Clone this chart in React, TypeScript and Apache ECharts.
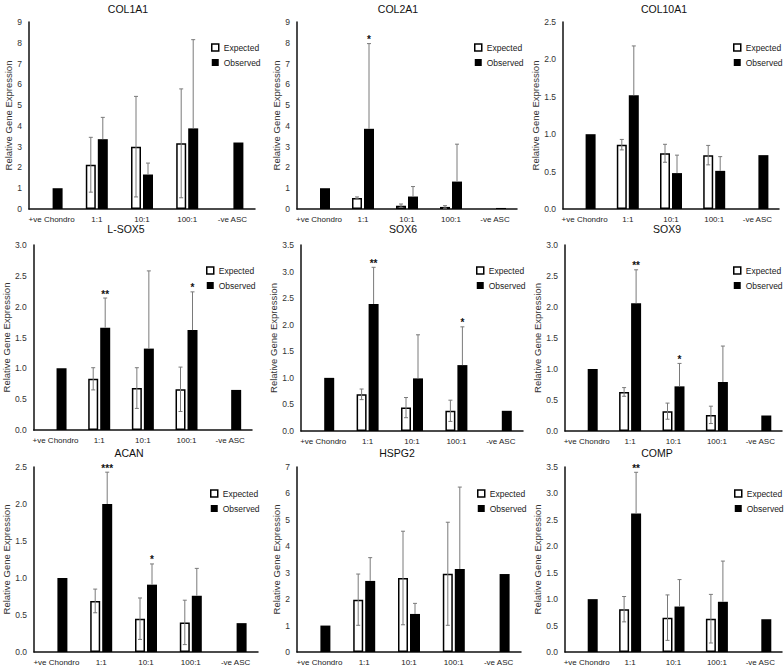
import React, { useEffect, useRef } from "react";
import * as echarts from "echarts";

const categories = ["+ve Chondro", "1:1", "10:1", "100:1", "-ve ASC"];
const genes = ["COL1A1", "COL2A1", "COL10A1", "L-SOX5", "SOX6", "SOX9", "ACAN", "HSPG2", "COMP"];
const yMax = [9, 9, 2.5, 3, 3.5, 3, 2.5, 7, 3.5];
const yInterval = [1, 1, 0.5, 0.5, 0.5, 0.5, 0.5, 1, 0.5];
const yDecimals = [0, 0, 1, 1, 1, 1, 1, 0, 1];

const col1a1Expected = [null, 2.13, 3.0, 3.16, null];
const col1a1ExpectedErr = [null, 1.32, 2.42, 2.62, null];
const col1a1Observed = [1.0, 3.36, 1.66, 3.88, 3.2];
const col1a1ObservedErr = [null, 1.05, 0.55, 4.27, null];
const col1a1Sig = ["", "", "", "", ""];

const col2a1Expected = [null, 0.53, 0.16, 0.1, null];
const col2a1ExpectedErr = [null, 0.05, 0.08, 0.06, null];
const col2a1Observed = [1.0, 3.86, 0.6, 1.32, 0.05];
const col2a1ObservedErr = [null, 4.1, 0.48, 1.8, null];
const col2a1Sig = ["", "*", "", "", ""];

const col10a1Expected = [null, 0.86, 0.745, 0.72, null];
const col10a1ExpectedErr = [null, 0.07, 0.12, 0.13, null];
const col10a1Observed = [1.0, 1.52, 0.48, 0.51, 0.72];
const col10a1ObservedErr = [null, 0.66, 0.24, 0.19, null];
const col10a1Sig = ["", "", "", "", ""];

const lsox5Expected = [null, 0.83, 0.68, 0.66, null];
const lsox5ExpectedErr = [null, 0.18, 0.33, 0.36, null];
const lsox5Observed = [1.0, 1.66, 1.32, 1.62, 0.65];
const lsox5ObservedErr = [null, 0.48, 1.26, 0.62, null];
const lsox5Sig = ["", "**", "", "*", ""];

const sox6Expected = [null, 0.69, 0.44, 0.38, null];
const sox6ExpectedErr = [null, 0.1, 0.19, 0.2, null];
const sox6Observed = [1.0, 2.39, 0.99, 1.24, 0.38];
const sox6ObservedErr = [null, 0.69, 0.82, 0.72, null];
const sox6Sig = ["", "**", "", "*", ""];

const sox9Expected = [null, 0.63, 0.32, 0.26, null];
const sox9ExpectedErr = [null, 0.07, 0.13, 0.14, null];
const sox9Observed = [1.0, 2.06, 0.72, 0.79, 0.25];
const sox9ObservedErr = [null, 0.54, 0.37, 0.58, null];
const sox9Sig = ["", "**", "*", "", ""];

const acanExpected = [null, 0.69, 0.45, 0.4, null];
const acanExpectedErr = [null, 0.16, 0.28, 0.3, null];
const acanObserved = [1.0, 2.0, 0.91, 0.76, 0.39];
const acanObservedErr = [null, 0.43, 0.28, 0.37, null];
const acanSig = ["", "***", "*", "", ""];

const hspg2Expected = [null, 1.98, 2.8, 2.96, null];
const hspg2ExpectedErr = [null, 0.97, 1.77, 1.95, null];
const hspg2Observed = [1.0, 2.69, 1.44, 3.14, 2.95];
const hspg2ObservedErr = [null, 0.88, 0.4, 3.1, null];
const hspg2Sig = ["", "", "", "", ""];

const compExpected = [null, 0.81, 0.65, 0.63, null];
const compExpectedErr = [null, 0.24, 0.43, 0.46, null];
const compObserved = [1.0, 2.62, 0.86, 0.95, 0.62];
const compObservedErr = [null, 0.78, 0.51, 0.77, null];
const compSig = ["", "**", "", "", ""];

const expectedSets = [col1a1Expected, col2a1Expected, col10a1Expected, lsox5Expected, sox6Expected, sox9Expected, acanExpected, hspg2Expected, compExpected];
const expectedErrSets = [col1a1ExpectedErr, col2a1ExpectedErr, col10a1ExpectedErr, lsox5ExpectedErr, sox6ExpectedErr, sox9ExpectedErr, acanExpectedErr, hspg2ExpectedErr, compExpectedErr];
const observedSets = [col1a1Observed, col2a1Observed, col10a1Observed, lsox5Observed, sox6Observed, sox9Observed, acanObserved, hspg2Observed, compObserved];
const observedErrSets = [col1a1ObservedErr, col2a1ObservedErr, col10a1ObservedErr, lsox5ObservedErr, sox6ObservedErr, sox9ObservedErr, acanObservedErr, hspg2ObservedErr, compObservedErr];
const sigSets = [col1a1Sig, col2a1Sig, col10a1Sig, lsox5Sig, sox6Sig, sox9Sig, acanSig, hspg2Sig, compSig];

// layout (pixels)
const gridLayout = [
  { left: 29, top: 22, width: 226, height: 187 },
  { left: 297, top: 22, width: 220, height: 187 },
  { left: 563, top: 22, width: 216, height: 187 },
  { left: 32, top: 245, width: 220, height: 185 },
  { left: 301, top: 245, width: 222, height: 186 },
  { left: 565, top: 245, width: 217, height: 186 },
  { left: 34, top: 467, width: 224, height: 187 },
  { left: 297, top: 467, width: 224, height: 186 },
  { left: 565, top: 467, width: 217, height: 186 },
];
const titlePos = [
  { x: 128, y: 9 }, { x: 398, y: 9 }, { x: 664, y: 9 },
  { x: 126, y: 229 }, { x: 403, y: 229 }, { x: 667, y: 229 },
  { x: 129, y: 453 }, { x: 397, y: 453 }, { x: 657, y: 453 },
];
const legendPos = [
  { x: 211, y: 49 }, { x: 474, y: 49 }, { x: 733, y: 49 },
  { x: 206, y: 272 }, { x: 476, y: 272 }, { x: 733, y: 272 },
  { x: 210, y: 495 }, { x: 477, y: 495 }, { x: 734, y: 495 },
];

const BAR_W = 10;
const HALF_OFF = 6;
const FONT = "'Liberation Sans', Arial, sans-serif";

function errSeries(idx: number, vals: (number | null)[], errs: (number | null)[], offset: number, both: boolean) {
  const data: number[][] = [];
  vals.forEach((v, i) => {
    const e = errs[i];
    if (v != null && e != null) data.push([i, v, e]);
  });
  return {
    type: "custom",
    xAxisIndex: idx,
    yAxisIndex: idx,
    z: 5,
    silent: true,
    data,
    renderItem: (params: any, api: any) => {
      const c = api.value(0);
      const v = api.value(1);
      const e = api.value(2);
      const hi = api.coord([c, v + e]);
      const lo = api.coord([c, both ? Math.max(v - e, 0) : v]);
      const x = hi[0] + offset;
      const st = { stroke: "#7a7a7a", lineWidth: 1 };
      const children: any[] = [
        { type: "line", shape: { x1: x, y1: hi[1], x2: x, y2: lo[1] }, style: st },
        { type: "line", shape: { x1: x - 2, y1: hi[1], x2: x + 2, y2: hi[1] }, style: st },
      ];
      if (both) {
        children.push({ type: "line", shape: { x1: x - 2, y1: lo[1], x2: x + 2, y2: lo[1] }, style: st });
      }
      return { type: "group", children };
    },
  };
}

function sigSeries(idx: number) {
  const vals = observedSets[idx];
  const errs = observedErrSets[idx];
  const sig = sigSets[idx];
  const data: number[][] = [];
  sig.forEach((s, i) => {
    if (s) data.push([i, (vals[i] as number) + ((errs[i] as number) || 0), i]);
  });
  return {
    type: "custom",
    xAxisIndex: idx,
    yAxisIndex: idx,
    z: 6,
    silent: true,
    data,
    renderItem: (params: any, api: any) => {
      const c = api.value(0);
      const top = api.value(1);
      const p = api.coord([c, top]);
      return {
        type: "text",
        x: p[0] + HALF_OFF,
        y: p[1] + 1,
        style: {
          text: sig[c],
          fill: "#111",
          font: `bold 10px ${FONT}`,
          align: "center",
          verticalAlign: "bottom",
        },
      };
    },
  };
}

export default function App() {
  const ref = useRef<HTMLDivElement>(null);
  useEffect(() => {
    if (!ref.current) return;
    const chart = echarts.init(ref.current, null, { renderer: "svg" });
    const grid: any[] = [];
    const xAxis: any[] = [];
    const yAxis: any[] = [];
    const title: any[] = [];
    const legend: any[] = [];
    const series: any[] = [];
    genes.forEach((g, i) => {
      grid.push({ ...gridLayout[i], containLabel: false });
      xAxis.push({
        type: "category",
        gridIndex: i,
        data: categories,
        axisLine: { lineStyle: { color: "#111", width: 1.5 } },
        axisTick: { show: false },
        axisLabel: { interval: 0, fontSize: 8, color: "#222", fontFamily: FONT, margin: 6 },
      });
      yAxis.push({
        type: "value",
        gridIndex: i,
        min: 0,
        max: yMax[i],
        interval: yInterval[i],
        name: "Relative Gene Expression",
        nameLocation: "middle",
        nameGap: 14,
        nameTextStyle: { fontSize: 9.5, color: "#333", fontFamily: FONT },
        axisLine: { show: true, lineStyle: { color: "#111", width: 1.5 } },
        axisTick: { show: false },
        splitLine: { show: false },
        axisLabel: {
          fontSize: 8.5,
          color: "#333",
          fontFamily: FONT,
          margin: 7,
          formatter: (v: number) => v.toFixed(yDecimals[i]),
        },
      });
      title.push({
        text: g,
        left: titlePos[i].x,
        top: titlePos[i].y - 6,
        textAlign: "center",
        textStyle: { fontSize: 10.5, fontWeight: "normal", color: "#111", fontFamily: FONT },
        padding: 0,
      });
      legend.push({
        orient: "vertical",
        left: legendPos[i].x,
        top: legendPos[i].y - 6,
        padding: 0,
        itemWidth: 7,
        itemHeight: 7,
        itemGap: 6,
        selectedMode: false,
        textStyle: { fontSize: 8.5, color: "#222", fontFamily: FONT },
        data: [
          { name: "Expected", icon: "rect", itemStyle: { color: "#fff", borderColor: "#000", borderWidth: 1.5 } },
          { name: "Observed", icon: "rect", itemStyle: { color: "#000" } },
        ],
      });
      series.push({
        type: "bar",
        name: "Expected",
        xAxisIndex: i,
        yAxisIndex: i,
        barWidth: BAR_W,
        barGap: "20%",
        data: expectedSets[i],
        itemStyle: { color: "#fff", borderColor: "#000", borderWidth: 1.5 },
      });
      series.push({
        type: "bar",
        name: "Observed",
        xAxisIndex: i,
        yAxisIndex: i,
        barWidth: BAR_W,
        barGap: "20%",
        data: observedSets[i],
        itemStyle: { color: "#000" },
      });
      series.push(errSeries(i, expectedSets[i], expectedErrSets[i], -HALF_OFF, true));
      series.push(errSeries(i, observedSets[i], observedErrSets[i], HALF_OFF, false));
      series.push(sigSeries(i));
    });
    chart.setOption({
      animation: false,
      backgroundColor: "#fff",
      textStyle: { fontFamily: FONT },
      grid,
      xAxis,
      yAxis,
      title,
      legend,
      series,
    });
    return () => chart.dispose();
  }, []);
  return (
    <div
      ref={ref}
      style={{ position: "absolute", left: 0, top: 0, width: 784, height: 666, background: "#fff" }}
    />
  );
}
